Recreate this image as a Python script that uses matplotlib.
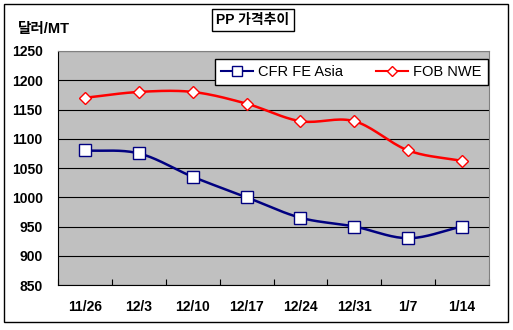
import numpy as np
import matplotlib
matplotlib.use('Agg')
import matplotlib.pyplot as plt
from matplotlib.patches import Rectangle

plt.rcParams['font.family'] = ['Liberation Sans', 'Noto Sans CJK KR', 'DejaVu Sans']

dates = ['11/26', '12/3', '12/10', '12/17', '12/24', '12/31', '1/7', '1/14']
cfr_fe_asia = [1080, 1075, 1035, 1000, 965, 950, 930, 950]
fob_nwe = [1170, 1180, 1180, 1160, 1130, 1130, 1080, 1062]


def smooth(xs, ys, n=20):
    # Catmull-Rom curve through the points, like Excel's smoothed line
    xs = np.asarray(xs, float)
    ys = np.asarray(ys, float)
    px = np.concatenate([[2 * xs[0] - xs[1]], xs, [2 * xs[-1] - xs[-2]]])
    py = np.concatenate([[2 * ys[0] - ys[1]], ys, [2 * ys[-1] - ys[-2]]])
    t = np.linspace(0, 1, n)
    ox, oy = [], []
    for i in range(1, len(px) - 2):
        for p, o in ((px, ox), (py, oy)):
            p0, p1, p2, p3 = p[i - 1], p[i], p[i + 1], p[i + 2]
            o.extend(0.5 * (2 * p1 + (-p0 + p2) * t
                            + (2 * p0 - 5 * p1 + 4 * p2 - p3) * t ** 2
                            + (-p0 + 3 * p1 - 3 * p2 + p3) * t ** 3))
    return ox, oy


fig = plt.figure(figsize=(5.13, 3.30), dpi=100)
fig.patches.append(Rectangle((4 / 513, 1 - 322 / 330), 504 / 513, 318 / 330,
                             transform=fig.transFigure, fill=False,
                             edgecolor='black', linewidth=1))
ax = fig.add_axes([58 / 513, 1 - 285 / 330, 431 / 513, 234 / 330])
ax.set_facecolor('#C0C0C0')

x = np.arange(len(dates))
for vals, color, marker, ms, label in [
        (cfr_fe_asia, '#000080', 's', 8, 'CFR FE Asia'),
        (fob_nwe, '#FF0000', 'D', 6, 'FOB NWE')]:
    sx, sy = smooth(x, vals)
    ax.plot(sx, sy, color=color, linewidth=1.8, zorder=3)
    ax.plot(x, vals, linestyle='none', marker=marker, markersize=ms,
            markerfacecolor='white', markeredgecolor=color, markeredgewidth=1, zorder=4)
    ax.plot([], [], color=color, linewidth=1.5, marker=marker, markersize=ms - 1,
            markerfacecolor='white', markeredgecolor=color, label=label)

ax.set_xlim(-0.5, len(dates) - 0.5)
ax.set_ylim(850, 1250)
ax.set_yticks(np.arange(850, 1251, 50))
ax.yaxis.grid(True, color='black', linewidth=0.8)
ax.set_axisbelow(True)
ax.set_xticks(np.arange(-0.5, len(dates), 1))
ax.set_xticklabels([])
ax.set_xticks(x, minor=True)
ax.set_xticklabels(dates, minor=True, fontsize=10, fontweight='bold')
ax.tick_params(axis='x', which='major', direction='in', length=4, color='black')
ax.tick_params(axis='x', which='minor', length=0, pad=11)
ax.tick_params(axis='y', length=0, labelsize=10, pad=11)
for lab in ax.get_yticklabels():
    lab.set_fontweight('bold')
for side in ['top', 'right']:
    ax.spines[side].set_color('#808080')
for side in ['bottom', 'left']:
    ax.spines[side].set_color('black')

leg = ax.legend(loc='upper right', ncol=2, bbox_to_anchor=(0.997, 0.966),
                fancybox=False, framealpha=1, edgecolor='black', fontsize=10.5,
                handlelength=2.2, handletextpad=0.4, columnspacing=2.2,
                borderpad=0.4, borderaxespad=0)
leg.get_frame().set_linewidth(1)

fig.text(18 / 513, 1 - 29 / 330, '달러/MT', fontsize=10.5, fontweight='bold', va='center')
fig.text(253 / 513, 1 - 20 / 330, 'PP 가격추이', fontsize=10, fontweight='bold',
         ha='center', va='center',
         bbox=dict(boxstyle='square,pad=0.3', facecolor='white', edgecolor='black', linewidth=1))

fig.savefig('out.png', dpi=100)
